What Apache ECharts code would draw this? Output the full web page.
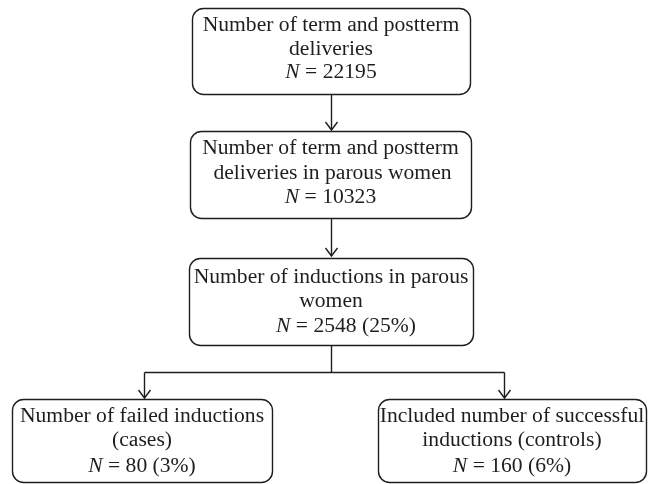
<!DOCTYPE html>
<html><head><meta charset="utf-8">
<script src="https://cdn.jsdelivr.net/npm/echarts@6/dist/echarts.min.js"></script>
<style>html,body{margin:0;padding:0;background:#fff}#c{width:650px;height:484px}</style>
</head><body><div id="c"></div>
<script>
// ---- data ----
const boxLines = [
  ["Number of term and postterm", "deliveries"],
  ["Number of term and postterm", "deliveries in parous women"],
  ["Number of inductions in parous", "women"],
  ["Number of failed inductions", "(cases)"],
  ["Included number of successful", "inductions (controls)"]
];
const nValues = ["22195", "10323", "2548 (25%)", "80 (3%)", "160 (6%)"];

// ---- layout (positions / sizes) ----
const boxRects = [
  [192, 8, 278, 86],
  [190, 131, 281, 87],
  [189, 258, 284, 87],
  [12, 399, 260, 83],
  [378, 399, 268, 83]
];
const lineYs = [
  [25, 49, 72],
  [148, 173, 197],
  [277, 301, 326],
  [416, 440, 466],
  [416, 440, 466]
];
const textOffsets = [[0,0,0],[0,2,0],[0,0,15],[0,0,0],[0,0,0]];

const FONT = '"Liberation Serif", "Times New Roman", serif';
const FS = 21.6;
const INK = '#1e1e1e';
const els = [];
boxRects.forEach((b, i) => {
  els.push({type:'rect', shape:{x:b[0]+0.5, y:b[1]+0.5, width:b[2], height:b[3], r:11},
    style:{fill:'#fff', stroke:INK, lineWidth:1.4}});
  const ys = lineYs[i];
  const cx = b[0] + b[2]/2;
  const texts = [boxLines[i][0], boxLines[i][1], '{i|N} = ' + nValues[i]];
  texts.forEach((t, k) => {
    els.push({type:'text', style:{text:t, x:cx + textOffsets[i][k], y:ys[k], align:'center', verticalAlign:'middle',
      fontFamily:FONT, fontSize:FS, fill:INK,
      rich:{i:{fontStyle:'italic', fontFamily:FONT, fontSize:FS, fill:INK}}}});
  });
});
function seg(pts) {
  els.push({type:'polyline', shape:{points:pts}, style:{stroke:INK, lineWidth:1.4, fill:null}});
}
function arrow(x, y1, y2) {
  seg([[x,y1],[x,y2]]);
  seg([[x-6,y2-8],[x,y2],[x+6,y2-8]]);
}
arrow(331.5, 94.5, 130);
arrow(331.5, 218.5, 256);
seg([[331.5,345.5],[331.5,372.5]]);
seg([[144.5,372.5],[504.5,372.5]]);
arrow(144.5, 372.5, 398);
arrow(504.5, 372.5, 398);

const chart = echarts.init(document.getElementById('c'), null, {renderer:'canvas'});
chart.setOption({backgroundColor:'#fff', animation:false, graphic:{elements:els}});
</script></body></html>
